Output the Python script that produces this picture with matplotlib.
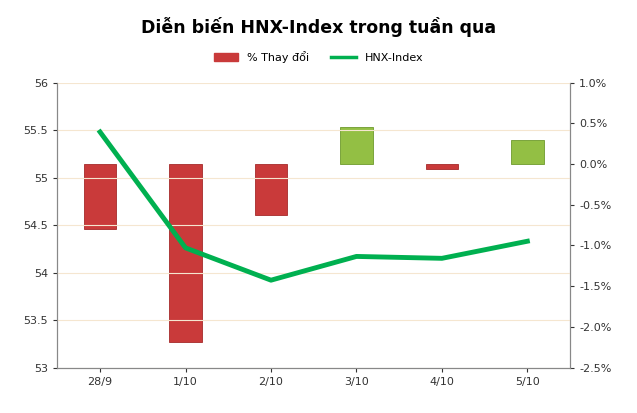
import matplotlib
matplotlib.use("Agg")
import matplotlib.pyplot as plt
from matplotlib.ticker import FuncFormatter

categories = ["28/9", "1/10", "2/10", "3/10", "4/10", "5/10"]
pct_change = [-0.80, -2.19, -0.62, 0.45, -0.06, 0.29]
hnx_index = [55.48, 54.26, 53.92, 54.17, 54.15, 54.33]

fig = plt.figure(figsize=(6.37, 4.13), dpi=100)
ax = fig.add_axes([0.09, 0.11, 0.805, 0.69])
ax2 = ax.twinx()

x = range(len(categories))
colors = ["#C93A3A" if v < 0 else "#93BF44" for v in pct_change]
edges = ["#A52A2A" if v < 0 else "#6E9A2C" for v in pct_change]
ax2.bar(x, pct_change, width=0.38, color=colors, edgecolor=edges, linewidth=0.6, zorder=2)
ax2.set_ylim(-2.5, 1.0)
ax2.set_yticks([1.0, 0.5, 0.0, -0.5, -1.0, -1.5, -2.0, -2.5])
ax2.yaxis.set_major_formatter(FuncFormatter(lambda v, p: f"{v:.1f}%"))

ax.plot(x, hnx_index, color="#00B050", linewidth=3.5, zorder=5)
ax.set_ylim(53, 56)
ax.set_yticks([53, 53.5, 54, 54.5, 55, 55.5, 56])
ax.yaxis.set_major_formatter(FuncFormatter(lambda v, p: f"{v:g}"))
ax.set_xlim(-0.5, 5.5)
ax.set_xticks(list(x))
ax.set_xticklabels(categories)
ax.grid(axis="y", color="#F5E6D0", linewidth=0.8)
ax.set_axisbelow(True)
ax.set_zorder(ax2.get_zorder() + 1)
ax.patch.set_visible(False)

for a in (ax, ax2):
    a.tick_params(labelsize=8, colors="#333333", length=3)
    for s in a.spines.values():
        s.set_color("#888888")
    a.spines["top"].set_visible(False)

fig.suptitle("Diễn biến HNX-Index trong tuần qua", y=0.96, fontsize=12.5, fontweight="bold")
from matplotlib.patches import Patch
from matplotlib.lines import Line2D
fig.legend([Patch(color="#C93A3A"), Line2D([0], [0], color="#00B050", lw=2.5)],
           ["% Thay đổi", "HNX-Index"], loc="upper center", bbox_to_anchor=(0.5, 0.9),
           ncol=2, frameon=False, fontsize=8, handlelength=2.2)
fig.savefig("out.png", dpi=100)
